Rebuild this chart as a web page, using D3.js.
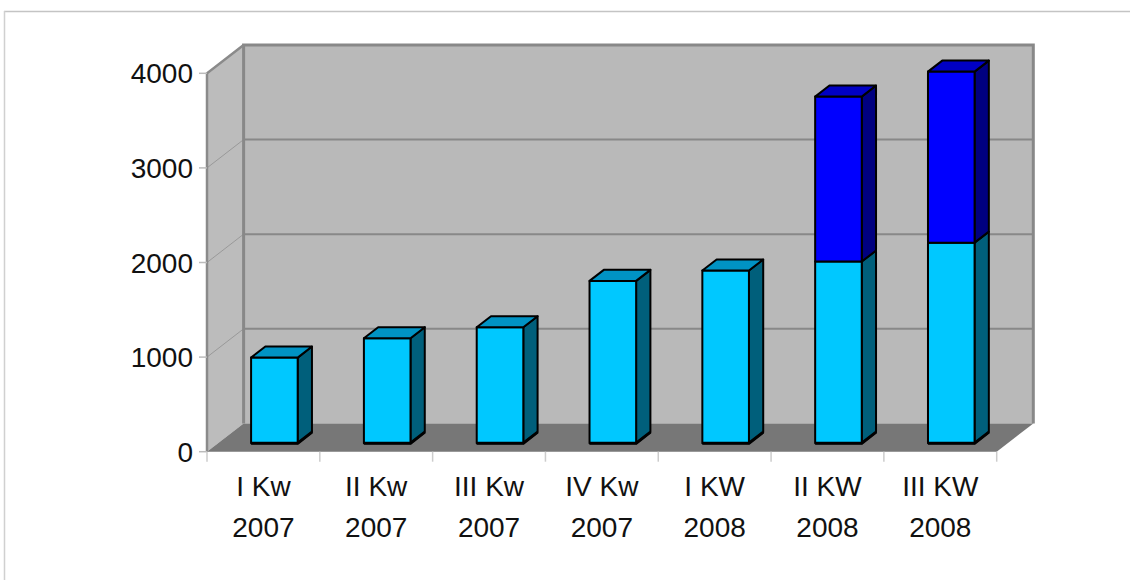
<!DOCTYPE html>
<html>
<head>
<meta charset="utf-8">
<script src="https://cdn.jsdelivr.net/npm/d3@7"></script>
<style>
  body { margin: 0; background: #fff; }
  text { font-family: "Liberation Sans", Arial, sans-serif; fill: #111; }
</style>
</head>
<body>
<svg width="1130" height="580"></svg>
<script>
// chart values
var quarters = ["I Kw", "II Kw", "III Kw", "IV Kw", "I KW", "II KW", "III KW"];
var years = ["2007", "2007", "2007", "2007", "2008", "2008", "2008"];
var lower = [905, 1110, 1226, 1716, 1825, 1920, 2120];
var upper = [0, 0, 0, 0, 0, 1744, 1808];
var yTicks = [0, 1000, 2000, 3000, 4000];

var svg = d3.select("svg");

// depth of the 3d box
var DX = 36.6, DY = 28.3;
var z0 = 0.3, z1 = 0.69;
function proj(x, y, z) { return [x + z * DX, y - z * DY]; }
function poly(pts) { return "M" + pts.map(function (p) { return p[0] + "," + p[1]; }).join("L") + "Z"; }

var x = d3.scaleBand().domain(d3.range(quarters.length)).range([207, 996.7]);
var y = d3.scaleLinear().domain([0, 4000]).range([451.7, 73.3]);

// outer frame (top and left only)
svg.append("line").attr("x1", 4).attr("x2", 1130).attr("y1", 11.5).attr("y2", 11.5)
  .attr("stroke", "#c4c4c4").attr("stroke-width", 1.5);
svg.append("line").attr("x1", 4.5).attr("x2", 4.5).attr("y1", 11).attr("y2", 580)
  .attr("stroke", "#d0d0d0").attr("stroke-width", 1.5);

var xLeft = x.range()[0], xRight = x.range()[1];
var yTop = y(4000), yBot = y(0);

// back wall
svg.append("path")
  .attr("d", poly([proj(xLeft, yTop, 1), proj(xRight, yTop, 1), proj(xRight, yBot, 1), proj(xLeft, yBot, 1)]))
  .attr("fill", "#b9b9b9");
// side wall
svg.append("path")
  .attr("d", poly([proj(xLeft, yTop, 0), proj(xLeft, yTop, 1), proj(xLeft, yBot, 1), proj(xLeft, yBot, 0)]))
  .attr("fill", "#bcbcbc");

// gridlines
var grid = svg.append("g");
yTicks.filter(function (t) { return t > 0 && t < 4000; }).forEach(function (t) {
  var a = proj(xLeft, y(t), 1), b = proj(xRight, y(t), 1), c = proj(xLeft, y(t), 0);
  grid.append("line").attr("x1", a[0]).attr("y1", a[1]).attr("x2", b[0]).attr("y2", b[1])
    .attr("stroke", "#888").attr("stroke-width", 2);
  grid.append("line").attr("x1", c[0]).attr("y1", c[1]).attr("x2", a[0]).attr("y2", a[1])
    .attr("stroke", "#999").attr("stroke-width", 1);
});

// floor
svg.append("path")
  .attr("d", poly([proj(xLeft, yBot, 0), proj(xLeft, yBot, 1), proj(xRight, yBot, 1), proj(xRight, yBot, 0)]))
  .attr("fill", "#777");

// wall borders
svg.append("path")
  .attr("d", "M" + proj(xLeft, yBot, 1) + "L" + proj(xLeft, yTop, 1) + "L" + proj(xRight, yTop, 1) + "L" + proj(xRight, yBot, 1))
  .attr("fill", "none").attr("stroke", "#888").attr("stroke-width", 3);
svg.append("path")
  .attr("d", "M" + proj(xLeft, yBot, 0) + "L" + proj(xLeft, yTop, 0) + "L" + proj(xLeft, yTop, 1))
  .attr("fill", "none").attr("stroke", "#8a8a8a").attr("stroke-width", 2.5);

// y axis ticks and labels
var yAxis = svg.append("g");
yTicks.forEach(function (t) {
  yAxis.append("line").attr("x1", xLeft - 8).attr("x2", xLeft).attr("y1", y(t)).attr("y2", y(t))
    .attr("stroke", "#bbb").attr("stroke-width", 1.5);
  yAxis.append("text").attr("x", xLeft - 14).attr("y", y(t)).attr("dy", "0.36em")
    .attr("text-anchor", "end").attr("font-size", "28px").text(t);
});

// x axis ticks and labels
var xAxis = svg.append("g");
d3.range(quarters.length + 1).forEach(function (i) {
  var xp = xLeft + i * x.bandwidth();
  xAxis.append("line").attr("x1", xp).attr("x2", xp).attr("y1", yBot).attr("y2", yBot + 10)
    .attr("stroke", "#ccc").attr("stroke-width", 1.5);
});
quarters.forEach(function (q, i) {
  var cx = x(i) + x.bandwidth() / 2;
  var t = xAxis.append("text").attr("text-anchor", "middle").attr("font-size", "28px");
  t.append("tspan").attr("x", cx).attr("y", 496).text(q);
  t.append("tspan").attr("x", cx).attr("y", 537).text(years[i]);
});

// bars
var colors = [
  { front: "#00c8ff", side: "#005f7b", top: "#0093c4" },
  { front: "#0000ff", side: "#000080", top: "#0000c4" }
];
var bw = x.bandwidth() * 0.413;
var bars = svg.append("g").attr("stroke", "#000").attr("stroke-width", 2).attr("stroke-linejoin", "round");
quarters.forEach(function (q, i) {
  var x0 = x(i) + (x.bandwidth() - bw) / 2, x1 = x0 + bw;
  var segs = [[0, lower[i]]];
  if (upper[i] > 0) segs.push([lower[i], lower[i] + upper[i]]);
  segs.forEach(function (s, k) {
    var c = colors[k];
    var ya = y(s[0]), yb = y(s[1]);
    bars.append("path").attr("fill", c.side)
      .attr("d", poly([proj(x1, yb, z0), proj(x1, yb, z1), proj(x1, ya, z1), proj(x1, ya, z0)]));
    bars.append("path").attr("fill", c.front)
      .attr("d", poly([proj(x0, yb, z0), proj(x1, yb, z0), proj(x1, ya, z0), proj(x0, ya, z0)]));
    if (k === segs.length - 1) {
      bars.append("path").attr("fill", c.top)
        .attr("d", poly([proj(x0, yb, z0), proj(x0, yb, z1), proj(x1, yb, z1), proj(x1, yb, z0)]));
    }
  });
  // heavier bottom edge
  var b0 = proj(x0, y(0), z0), b1 = proj(x1, y(0), z0), b2 = proj(x1, y(0), z1);
  bars.append("path").attr("fill", "none").attr("stroke-width", 3)
    .attr("d", "M" + b0 + "L" + b1 + "L" + b2);
});
</script>
</body>
</html>
